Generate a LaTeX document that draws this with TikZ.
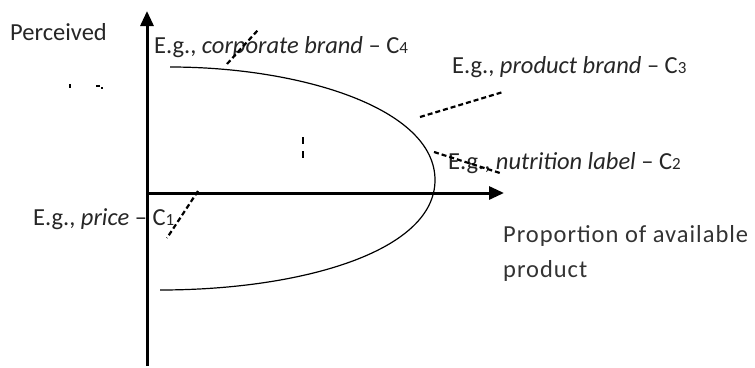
\documentclass[tikz,border=0pt]{standalone}
\usepackage{fontspec}
\setmainfont{Carlito}
\usetikzlibrary{arrows.meta}
\newcommand\cnum[1]{{\fontsize{17pt}{17pt}\selectfont #1}}
\begin{document}
\begin{tikzpicture}[x=1pt,y=-1pt,
  axis/.style={line width=3pt,-{Triangle[width=13pt,length=15pt]}},
  curveline/.style={line width=1.2pt},
  guide/.style={line width=2.2pt,dash pattern=on 5pt off 3pt},
  lbl/.style={inner sep=0pt,anchor=base west,font=\fontsize{24.5pt}{29pt}\selectfont,text=black!85}]
\useasboundingbox (0,0) rectangle (755,367);
% axes
\coordinate (o) at (147,193);
\coordinate (ybot) at (147,366);
\coordinate (ytop) at (147,11);
\coordinate (xend) at (504,193);
\draw[axis] (ybot) -- (ytop);
\draw[axis] (o) -- (xend);
% curve
\coordinate (c0) at (170,67);
\coordinate (cv) at (435,180);
\coordinate (c1) at (160,290);
\draw[curveline] (c0) .. controls (300,67) and (435,108) .. (cv)
                     .. controls (435,252) and (300,290) .. (c1);
% labels
\node[lbl] (perc) at (10,40) {Perceived};
\node[lbl] (c4) at (154,53) {E.g., \textit{corporate brand} – C\cnum{4}};
\node[lbl] (c3) at (452,73) {E.g., \textit{product brand} – C\cnum{3}};
\node[lbl] (c2) at (448,169) {E.g., \textit{nutrition label} – C\cnum{2}};
\node[lbl] (c1l) at (33,225) {E.g., \textit{price} – C\cnum{1}};
\node[lbl,align=left,font=\fontsize{24.5pt}{35pt}\selectfont\addfontfeature{LetterSpace=4},
  text=black!80] (prop) at (503,277) {Proportion of available\\product};
% dashed guides
\coordinate (g4a) at (227,64);
\coordinate (g4b) at (258,30);
\coordinate (g3a) at (420,117);
\coordinate (g3b) at (503,92);
\coordinate (g2a) at (434,152);
\coordinate (g2b) at (500,173);
\coordinate (g1a) at (198,191);
\coordinate (g1b) at (167,238);
\draw[guide] (g4a) -- (g4b);
\draw[guide] (g3a) -- (g3b);
\draw[guide] (g2a) -- (g2b);
\draw[guide] (g1a) -- (g1b);
% small marks
\coordinate (m1a) at (303,137);
\coordinate (m1b) at (303,159);
\draw[line width=2.2pt,dash pattern=on 7pt off 7pt] (m1a) -- (m1b);
\fill (69,84) rectangle (71,88);
\fill (96,85) rectangle (100,87);
\fill (101,87) rectangle (103,89);
\end{tikzpicture}
\end{document}
